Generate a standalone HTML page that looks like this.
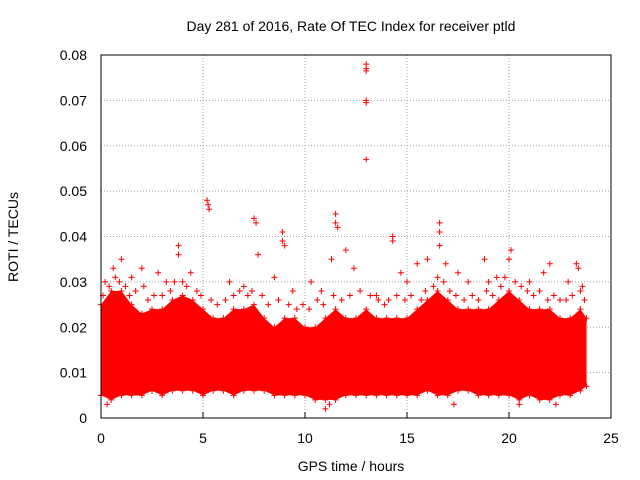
<!DOCTYPE html>
<html><head><meta charset="utf-8"><style>
body{margin:0;background:#fff}
svg{display:block;font-family:"Liberation Sans",sans-serif}
</style></head><body>
<svg id="chart" width="640" height="480" xmlns="http://www.w3.org/2000/svg">
<rect width="640" height="480" fill="#fff"/>
<text x="351" y="31" font-size="14" text-anchor="middle">Day 281 of 2016, Rate Of TEC Index for receiver ptld</text>
<text x="351" y="471" font-size="14" text-anchor="middle">GPS time / hours</text>
<text transform="translate(18,237) rotate(-90)" font-size="14" text-anchor="middle">ROTI / TECUs</text>
<g id="grid"></g><g id="band"></g><g id="marks"></g><g id="axes"></g>
</svg>
<script>
const binTimes=[0,0.5,1,1.5,2,2.5,3,3.5,4,4.5,5,5.5,6,6.5,7,7.5,8,8.5,9,9.5,10,10.5,11,11.5,12,12.5,13,13.5,14,14.5,15,15.5,16,16.5,17,17.5,18,18.5,19,19.5,20,20.5,21,21.5,22,22.5,23,23.5,23.8];
const binHigh=[.025,.028,.028,.025,.023,.024,.024,.026,.027,.026,.024,.022,.022,.024,.024,.025,.022,.02,.022,.022,.02,.02,.022,.024,.022,.022,.024,.022,.022,.022,.022,.024,.026,.028,.026,.024,.024,.024,.024,.026,.028,.026,.024,.024,.024,.022,.022,.024,.022];
const binLow=[.005,.004,.005,.005,.005,.006,.005,.006,.006,.006,.005,.006,.006,.005,.006,.006,.006,.005,.005,.005,.005,.004,.004,.004,.005,.005,.005,.005,.005,.005,.005,.005,.006,.005,.005,.006,.006,.005,.005,.005,.005,.004,.005,.004,.004,.005,.005,.006,.007];
const outT=[5.2,5.25,5.3,7.5,7.6,7.7,8.9,8.9,9.0,11.5,11.5,11.6,12.0,13.0,13.0,13.0,13.0,13.0,13.0,14.3,14.3,16.6,16.6,16.6,3.8,3.8,1,0.6,2,2.8,4.4,6.3,9.4,10.3,11.3,12.4,14.7,15.5,16,16.9,17.5,18.8,19.4,20.1,20,21.7,22.0,22.9,23.3,23.4,23.6,0.2,1.5,3.2,7,8.5,10.8,13.5,15,18,19,21,0.3,11,11.2,20.5,22.3,17.3];
const outV=[.048,.047,.046,.044,.043,.036,.041,.039,.038,.045,.043,.042,.037,.078,.077,.0765,.070,.0695,.057,.039,.040,.043,.041,.038,.038,.036,.035,.033,.033,.032,.032,.03,.028,.03,.035,.033,.032,.034,.035,.034,.032,.035,.031,.037,.035,.032,.034,.03,.034,.033,.029,.03,.031,.03,.029,.031,.028,.027,.03,.03,.03,.03,.003,.002,.003,.003,.003,.003];
const midT=[0.1,0.4,0.7,0.9,1.2,1.4,1.7,2.1,2.3,2.6,3.0,3.4,3.6,4.0,4.2,4.7,4.9,5.4,5.7,6.1,6.5,6.8,7.2,7.4,7.9,8.2,8.7,9.2,9.6,9.9,10.2,10.6,10.9,11.4,11.8,12.2,12.7,13.2,13.6,13.9,14.1,14.5,14.9,15.2,15.7,15.9,16.3,16.5,16.8,17.1,17.4,17.8,18.2,18.5,18.9,19.2,19.6,19.8,20.3,20.6,20.9,21.2,21.5,21.9,22.2,22.5,22.8,23.1,23.5,23.7];
const midV=[.027,.029,.031,.03,.029,.027,.028,.029,.026,.027,.027,.028,.03,.03,.029,.028,.027,.026,.025,.026,.027,.028,.027,.028,.027,.025,.026,.025,.024,.025,.024,.026,.025,.027,.026,.027,.028,.027,.026,.025,.026,.027,.026,.027,.026,.028,.029,.031,.03,.028,.027,.026,.027,.026,.028,.027,.029,.031,.03,.029,.028,.027,.028,.026,.027,.026,.026,.027,.028,.026];
const xTicks=[0,5,10,15,20,25];
const yTicks=[0,0.01,0.02,0.03,0.04,0.05,0.06,0.07,0.08];
const yTickLabels=["0","0.01","0.02","0.03","0.04","0.05","0.06","0.07","0.08"];
const X0=101,X1=611,Y0=418,Y1=55;
const xs=t=>X0+(t/25)*(X1-X0);
const ys=v=>Y0-(v/0.08)*(Y0-Y1);
const NS="http://www.w3.org/2000/svg";
function mk(tag,parent){const e=document.createElementNS(NS,tag);document.getElementById(parent).appendChild(e);return e;}
xTicks.forEach((t,i)=>{
 const x=xs(t);
 if(i>0&&i<xTicks.length-1){const g=mk('line','grid');g.setAttribute('x1',x);g.setAttribute('x2',x);g.setAttribute('y1',Y1);g.setAttribute('y2',Y0);g.setAttribute('stroke','#a0a0a0');g.setAttribute('stroke-dasharray','1,2');
 
 }
 const tx=mk('text','axes');tx.setAttribute('x',x);tx.setAttribute('y',443);tx.setAttribute('font-size','14');tx.setAttribute('text-anchor','middle');tx.textContent=t;
 
 
 const tk=mk('line','axes');tk.setAttribute('x1',x);tk.setAttribute('x2',x);tk.setAttribute('y1',Y0);tk.setAttribute('y2',Y0-6);tk.setAttribute('stroke','#000');
 
 
});
yTicks.forEach((v,i)=>{
 const y=ys(v);
 if(i>0&&i<yTicks.length-1){const g=mk('line','grid');g.setAttribute('x1',X0);g.setAttribute('x2',X1);g.setAttribute('y1',y);g.setAttribute('y2',y);g.setAttribute('stroke','#a0a0a0');g.setAttribute('stroke-dasharray','1,2');
 
 }
 const tx=mk('text','axes');tx.setAttribute('x',87);tx.setAttribute('y',y+5);tx.setAttribute('font-size','14');tx.setAttribute('text-anchor','end');tx.textContent=yTickLabels[i];
 
 
});
const fr=mk('rect','axes');fr.setAttribute('x',X0);fr.setAttribute('y',Y1);fr.setAttribute('width',X1-X0);fr.setAttribute('height',Y0-Y1);fr.setAttribute('fill','none');fr.setAttribute('stroke','#000');


let pts=binTimes.map((t,i)=>xs(t)+','+ys(binHigh[i]));
for(let i=binTimes.length-1;i>=0;i--)pts.push(xs(binTimes[i])+','+ys(binLow[i]));
const poly=mk('polygon','band');poly.setAttribute('points',pts.join(' '));poly.setAttribute('fill','#ff0000');


function plus(t,v,name){
 const x=xs(t),y=ys(v);
 const p=mk('path','marks');p.setAttribute('d',`M${x-3},${y}H${x+3}M${x},${y-3}V${y+3}`);p.setAttribute('stroke','#ff0000');p.setAttribute('stroke-width','1');
 
 
}
binTimes.forEach((t,i)=>{plus(t,binHigh[i],'band-high-point');plus(t,binLow[i],'band-low-point');});
midT.forEach((t,i)=>plus(t,midV[i],'scatter-point'));
outT.forEach((t,i)=>plus(t,outV[i],'outlier-point'));
</script>
</body></html>
